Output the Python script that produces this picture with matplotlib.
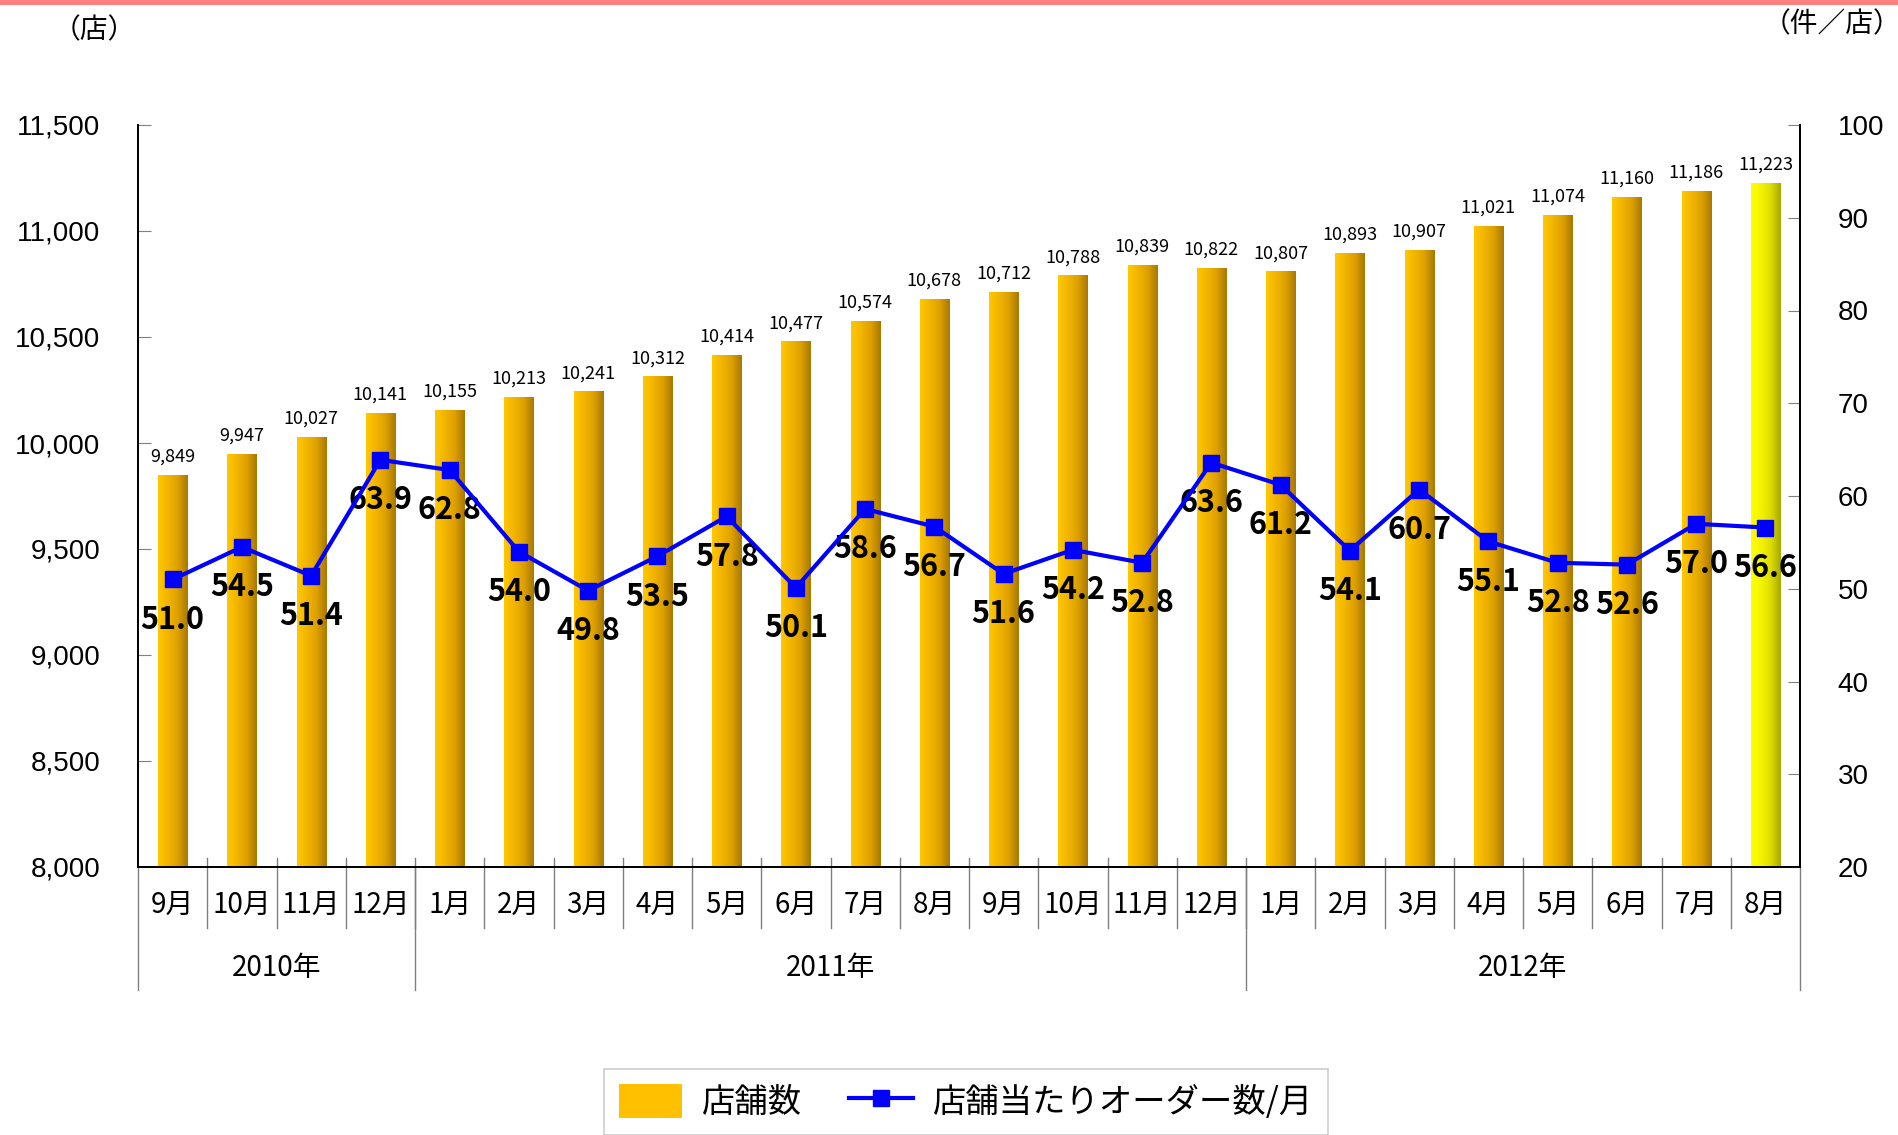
import numpy as np
import matplotlib
matplotlib.use('Agg')
import matplotlib.pyplot as plt
from matplotlib.colors import LinearSegmentedColormap
from matplotlib.patches import Patch, Rectangle
from matplotlib.lines import Line2D
import matplotlib.transforms as mtransforms

plt.rcParams['font.family'] = ['Noto Sans CJK JP', 'DejaVu Sans']

# data
months = ['9月', '10月', '11月', '12月',
          '1月', '2月', '3月', '4月', '5月', '6月', '7月', '8月', '9月', '10月', '11月', '12月',
          '1月', '2月', '3月', '4月', '5月', '6月', '7月', '8月']
years = ['2010年', '2011年', '2012年']
year_counts = [4, 12, 8]
stores = [9849, 9947, 10027, 10141, 10155, 10213, 10241, 10312, 10414, 10477, 10574, 10678,
          10712, 10788, 10839, 10822, 10807, 10893, 10907, 11021, 11074, 11160, 11186, 11223]
orders = [51.0, 54.5, 51.4, 63.9, 62.8, 54.0, 49.8, 53.5, 57.8, 50.1, 58.6, 56.7,
          51.6, 54.2, 52.8, 63.6, 61.2, 54.1, 60.7, 55.1, 52.8, 52.6, 57.0, 56.6]
left_ticks = list(range(8000, 11501, 500))
right_ticks = list(range(20, 101, 10))

W, H = 1898, 1135
fig = plt.figure(figsize=(W / 100, H / 100), dpi=100)
ax1 = fig.add_axes([138 / W, 1 - 867 / H, (1800 - 138) / W, (867 - 125) / H])
ax2 = ax1.twinx()

gold = LinearSegmentedColormap.from_list('gold', ['#FFC800', '#F2B400', '#DDA000', '#A87800'])
lemon = LinearSegmentedColormap.from_list('lemon', ['#FFFF00', '#F4F400', '#DCDC00', '#A8A800'])
grad = np.linspace(0, 1, 64).reshape(1, -1)

x = np.arange(len(stores))
ymin, ymax = left_ticks[0], left_ticks[-1]
bars = ax1.bar(x, np.array(stores) - ymin, bottom=ymin, width=0.42,
               facecolor='none', edgecolor='none', zorder=2)
for i, b in enumerate(bars):
    cmap = lemon if i == len(bars) - 1 else gold
    ax1.imshow(grad, extent=[b.get_x(), b.get_x() + b.get_width(), ymin, stores[i]],
               cmap=cmap, aspect='auto', zorder=2, interpolation='bicubic')
    ax1.annotate(f'{stores[i]:,}', (x[i], stores[i]), xytext=(0, 7), textcoords='offset points',
                 ha='center', va='bottom', fontsize=13)

ax1.set_xlim(-0.5, len(stores) - 0.5)
ax1.set_ylim(ymin, ymax)
ax1.set_yticks(left_ticks)
ax1.set_yticklabels([f'{v:,}' for v in left_ticks], family='Liberation Sans', fontsize=20)
ax1.tick_params(axis='y', direction='in', length=9, color='#808080', pad=27)
ax1.set_xticks([])

ax2.plot(x, orders, color='#0000FF', lw=3, marker='s', markersize=12, zorder=5)
for i, v in enumerate(orders):
    ax2.annotate(f'{v:.1f}', (x[i], v), xytext=(0, -29), textcoords='offset points',
                 ha='center', va='center', fontsize=22, fontweight='bold')
ax2.set_ylim(right_ticks[0], right_ticks[-1])
ax2.set_yticks(right_ticks)
ax2.set_yticklabels([str(v) for v in right_ticks], family='Liberation Sans', fontsize=20)
ax2.tick_params(axis='y', direction='in', length=9, color='#808080', pad=27)

for a in (ax1, ax2):
    a.spines['top'].set_visible(False)
    for s in ('left', 'right', 'bottom'):
        a.spines[s].set_color('black')
        a.spines[s].set_linewidth(1.3)

# category axis with separators
trans = mtransforms.blended_transform_factory(ax1.transData, ax1.transAxes)
ph = 867 - 125
for k in range(1, len(months)):
    ax1.plot([k - 0.5, k - 0.5], [9 / ph, -61 / ph], transform=trans, color='#808080',
             lw=1, clip_on=False, zorder=1)
for i, m in enumerate(months):
    ax1.text(i, -38 / ph, m, transform=trans, ha='center', va='center', fontsize=20)
edges = np.concatenate([[0], np.cumsum(year_counts)]) - 0.5
for e in edges:
    ax1.plot([e, e], [0, -123 / ph], transform=trans, color='#808080', lw=1, clip_on=False)
for j, yl in enumerate(years):
    ax1.text((edges[j] + edges[j + 1]) / 2, -101 / ph, yl, transform=trans,
             ha='center', va='center', fontsize=20)

# unit labels
fig.text(94 / W, 1 - 30 / H, '（店）', ha='center', va='center', fontsize=20)
fig.text(1832 / W, 1 - 24 / H, '（件／店）', ha='center', va='center', fontsize=20)

# top band
fig.add_artist(Rectangle((0, 1 - 5 / H), 1, 5 / H, transform=fig.transFigure,
                         facecolor='#FF8080', edgecolor='none'))

handles = [Patch(facecolor='#FFC000', edgecolor='none'),
           Line2D([], [], color='#0000FF', lw=3, marker='s', markersize=12)]
leg = fig.legend(handles, ['店舗数', '店舗当たりオーダー数/月'], loc='upper center',
                 bbox_to_anchor=(966 / W, 1 - 1069 / H), ncol=2, fontsize=24,
                 frameon=True, fancybox=False, edgecolor='#C0C0C0', handlelength=1.9,
                 handleheight=1.2, handletextpad=0.6, columnspacing=1.4, borderpad=0.45,
                 borderaxespad=0)
leg.get_frame().set_linewidth(1.2)

fig.savefig('out.png', dpi=100)
